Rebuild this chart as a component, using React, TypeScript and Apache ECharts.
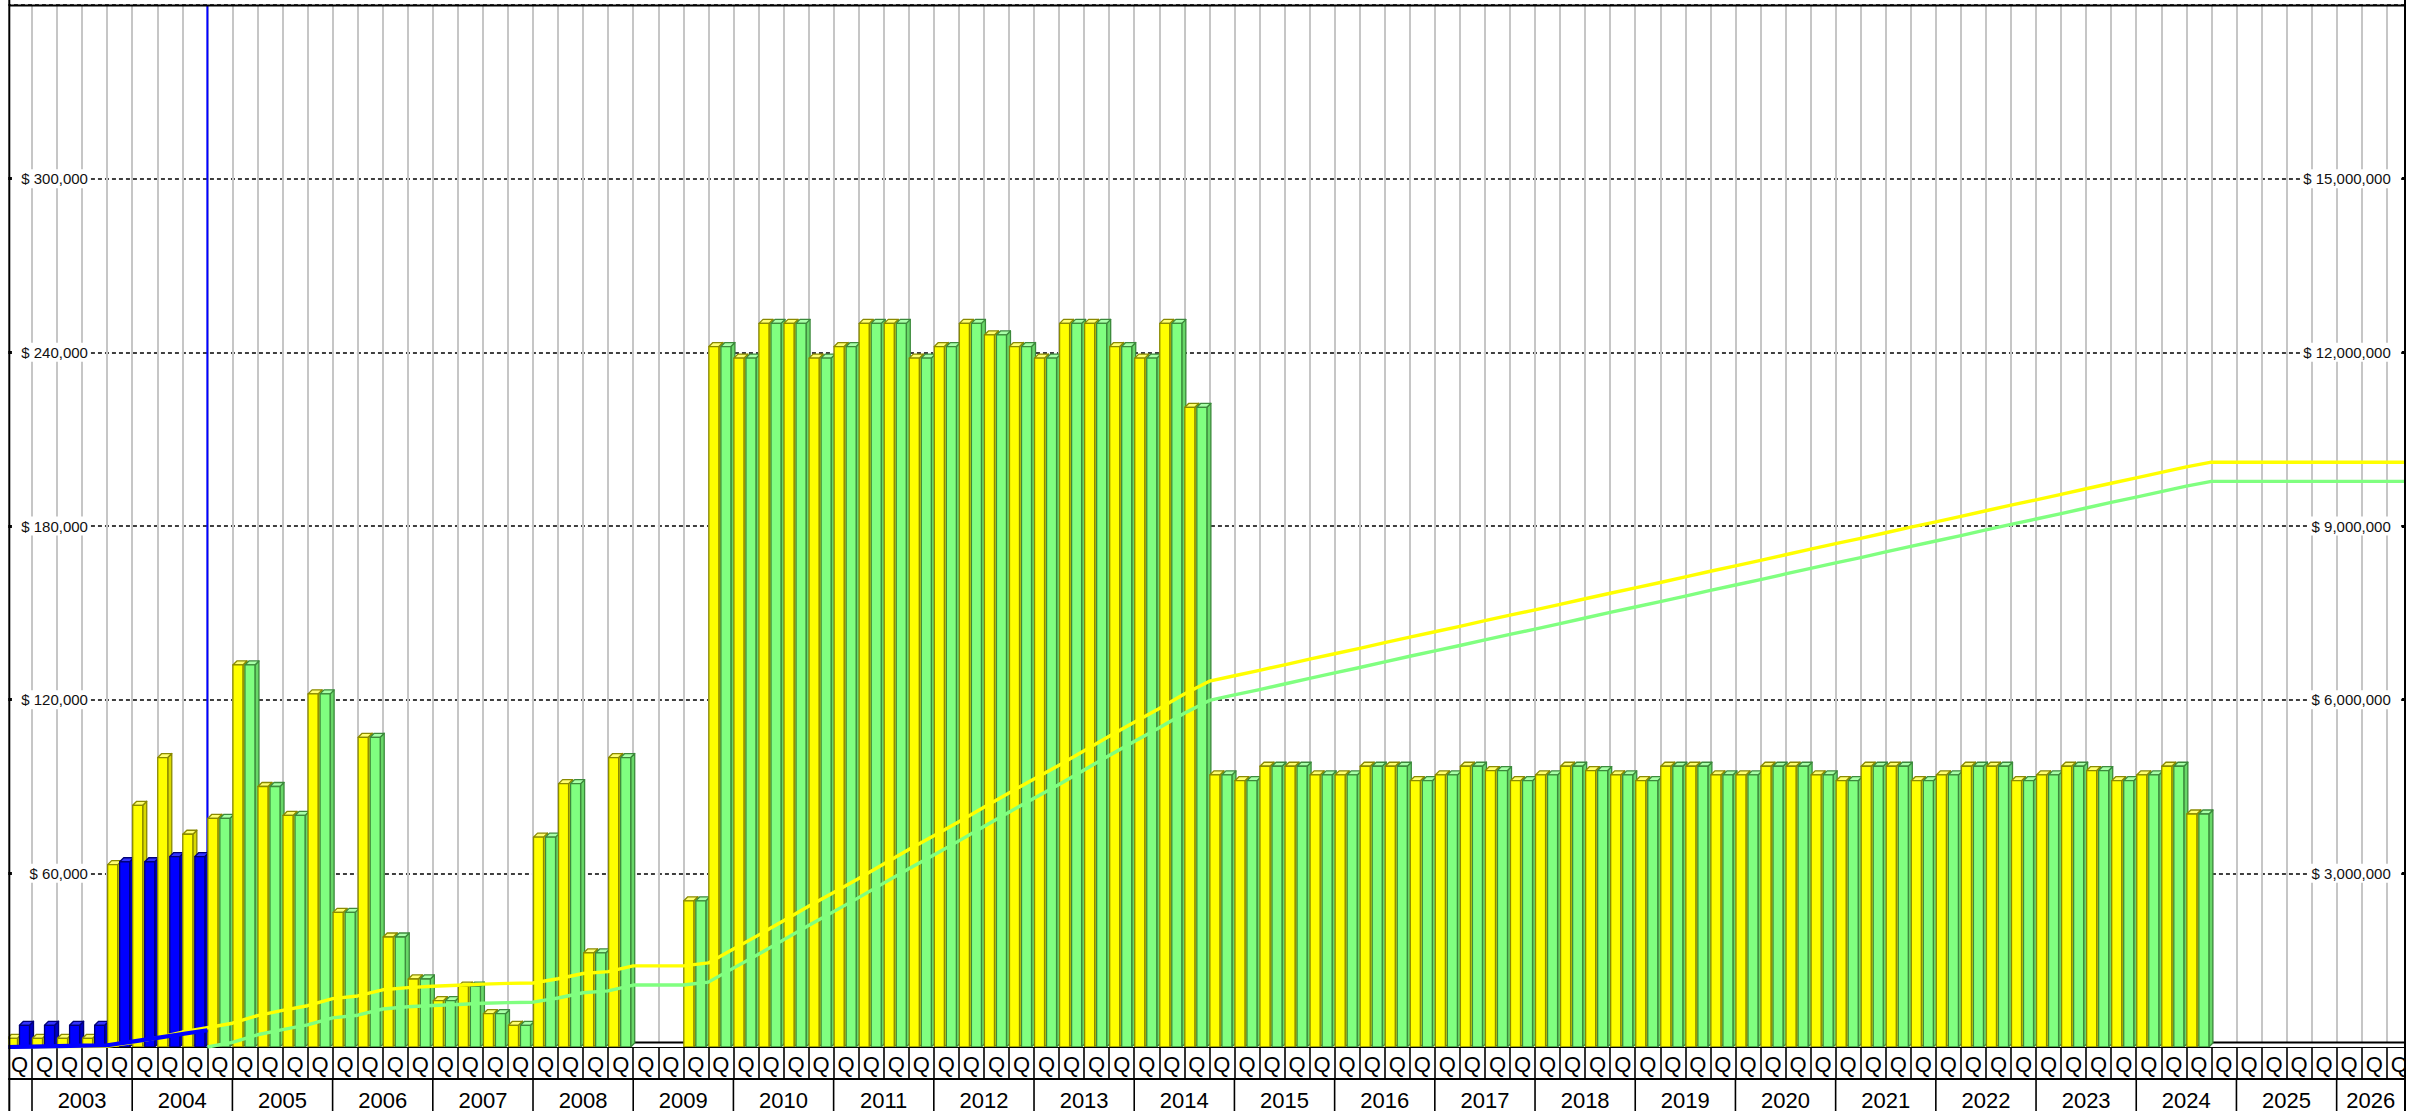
import { useEffect, useRef } from 'react';
import * as echarts from 'echarts';

const FONT = '"Liberation Sans", Arial, Helvetica, sans-serif';

// ---- categories -------------------------------------------------------
// Years on the lower axis row (2002 is only its Q4, cut at the left edge; 2026 is cut at the right edge)
const YEARS = [2002, 2003, 2004, 2005, 2006, 2007, 2008, 2009, 2010, 2011, 2012, 2013, 2014,
  2015, 2016, 2017, 2018, 2019, 2020, 2021, 2022, 2023, 2024, 2025, 2026];
const FIRST_YEAR = 2002;
const FIRST_QUARTER = 4; // the chart starts in 2002 Q4
const QUARTER_COUNT = 96; // 2002 Q4 .. 2026 Q3
const QUARTER_LABELS: string[] = [];
YEARS.forEach((y) => {
  [1, 2, 3, 4].forEach((qn) => {
    if (y === FIRST_YEAR && qn < FIRST_QUARTER) return;
    if (QUARTER_LABELS.length < QUARTER_COUNT) QUARTER_LABELS.push(`${y} Q${qn}`);
  });
});

// ---- series values (quarterly, $) ----------------------------------------
// yellow bars: 2002 Q4 .. 2024 Q3
const BUDGET = [
  3000, 3000, 3000, 3000,
  63000, 83500, 100000, 73500,
  79000, 132000, 90000, 80000,
  122000, 46500, 107000, 38000,
  23500, 16000, 21000, 11500,
  7500, 72500, 91000, 32500,
  100000, 0, 0, 50500,
  242000, 238000, 250000, 250000,
  238000, 242000, 250000, 250000,
  238000, 242000, 250000, 246000,
  242000, 238000, 250000, 250000,
  242000, 238000, 250000, 221000,
  94000, 92000, 97000, 97000,
  94000, 94000, 97000, 97000,
  92000, 94000, 97000, 95500,
  92000, 94000, 97000, 95500,
  94000, 92000, 97000, 97000,
  94000, 94000, 97000, 97000,
  94000, 92000, 97000, 97000,
  92000, 94000, 97000, 97000,
  92000, 94000, 97000, 95500,
  92000, 94000, 97000, 80500,
];
// blue bars: actuals 2002 Q4 .. 2004 Q3
const ACTUAL = [7500, 7500, 7500, 7500, 64000, 64000, 65800, 65800];
// green bars: forecast 2004 Q4 .. 2024 Q3
const FORECAST = [
  79000, 132000, 90000, 80000,
  122000, 46500, 107000, 38000,
  23500, 16000, 21000, 11500,
  7500, 72500, 91000, 32500,
  100000, 0, 0, 50500,
  242000, 238000, 250000, 250000,
  238000, 242000, 250000, 250000,
  238000, 242000, 250000, 246000,
  242000, 238000, 250000, 250000,
  242000, 238000, 250000, 221000,
  94000, 92000, 97000, 97000,
  94000, 94000, 97000, 97000,
  92000, 94000, 97000, 95500,
  92000, 94000, 97000, 95500,
  94000, 92000, 97000, 97000,
  94000, 94000, 97000, 97000,
  94000, 92000, 97000, 97000,
  92000, 94000, 97000, 97000,
  92000, 94000, 97000, 95500,
  92000, 94000, 97000, 80500,
];
const FORECAST_START = 8; // first forecast quarter (2004 Q4); the blue marker sits at its left edge

// ---- axes ----------------------------------------------------------------
const LEFT_MAX = 360000;
const LEFT_STEP = 60000;
const RIGHT_MAX = 18000000;
const RIGHT_STEP = 3000000;

// ---- layout --------------------------------------------------------------
const W = 2416;
const H = 1111;
const GRID = { left: 6.95, right: 4.2, top: 5, bottom: 64 };
const FRAME_L = 9.3;
const FRAME_R = 2405;
const BASE_Y = H - GRID.bottom;

type Pal = { front: string; top: string; side: string; edge: string };
const PAL: Record<string, Pal> = {
  yellow: { front: '#FFFF00', top: '#FFFF70', side: '#DADA00', edge: '#8A8A00' },
  green: { front: '#80FF80', top: '#A8FFA8', side: '#68D868', edge: '#3C8A3C' },
  blue: { front: '#0000FF', top: '#3333FF', side: '#0000C4', edge: '#00007A' },
};

const money = (v: number) => '$ ' + Math.round(v).toLocaleString('en-US');

function cumulative(values: number[], startX: number, endX: number): number[][] {
  const pts: number[][] = [[startX, 0]];
  let s = 0;
  values.forEach((v, i) => {
    s += v;
    pts.push([startX + i + 1, s]);
  });
  const lastX = startX + values.length;
  if (endX > lastX) pts.push([endX, s]);
  return pts;
}

export default function App() {
  const ref = useRef<HTMLDivElement>(null);

  useEffect(() => {
    if (!ref.current) return;
    const chart = echarts.init(ref.current, undefined, { renderer: 'svg', width: W, height: H });

    const barData = BUDGET.map((b, q) => [
      q,
      b,
      q < FORECAST_START ? ACTUAL[q] : FORECAST[q - FORECAST_START],
      q < FORECAST_START ? 1 : 2,
    ]);

    const yearData = YEARS.map((y) => {
      const start = (y - FIRST_YEAR) * 4 - (FIRST_QUARTER - 1);
      return [Math.max(start, 0), Math.min(start + 4, QUARTER_COUNT), 0, y];
    });

    const renderBars = (_p: any, api: any) => {
      const q = api.value(0);
      const base = api.coord([q, 0]);
      const cw = api.size([1, 0])[0];
      const w = cw * 0.4;
      const d = cw * 0.16;
      const y0 = base[1];
      const kids: any[] = [];
      const add = (x: number, val: number, pal: Pal) => {
        if (!(val > 0)) return;
        const top = api.coord([q, val])[1];
        const st = { stroke: pal.edge, lineWidth: 1.3, lineJoin: 'round' };
        kids.push({
          type: 'polygon',
          shape: { points: [[x + w, y0], [x + w, top], [x + w + d, top - d], [x + w + d, y0 - d]] },
          style: { ...st, fill: pal.side },
        });
        kids.push({
          type: 'polygon',
          shape: { points: [[x, top], [x + d, top - d], [x + w + d, top - d], [x + w, top]] },
          style: { ...st, fill: pal.top },
        });
        kids.push({
          type: 'rect',
          shape: { x, y: top, width: w, height: y0 - top },
          style: { ...st, fill: pal.front },
        });
      };
      add(base[0] + cw * 0.02, api.value(1), PAL.yellow);
      add(base[0] + cw * 0.5, api.value(2), api.value(3) === 1 ? PAL.blue : PAL.green);
      return { type: 'group', children: kids };
    };

    const renderYears = (_p: any, api: any) => {
      const s = api.value(0);
      const e = api.value(1);
      const year = api.value(3);
      const p0 = api.coord([s, 0]);
      const p1 = api.coord([e, 0]);
      const xa = Math.max(p0[0], FRAME_L);
      const xb = Math.min(p1[0], FRAME_R);
      const yTop = p0[1] + 32;
      const yBot = p0[1] + 66;
      const kids: any[] = [
        { type: 'line', shape: { x1: p0[0], y1: yTop, x2: p0[0], y2: yBot }, style: { stroke: '#000', lineWidth: 1.6 } },
      ];
      if (xb - xa > 60) {
        kids.push({
          type: 'text',
          style: {
            text: String(year),
            x: (xa + xb) / 2,
            y: p0[1] + 53,
            fill: '#000',
            font: `22px ${FONT}`,
            align: 'center',
            verticalAlign: 'middle',
          },
        });
      }
      return { type: 'group', children: kids };
    };

    const yellowLine = cumulative(BUDGET, 0, QUARTER_COUNT);
    const blueLine = cumulative(ACTUAL, 0, ACTUAL.length);
    const greenLine = cumulative(FORECAST, FORECAST_START, QUARTER_COUNT);

    const option: any = {
      animation: false,
      backgroundColor: '#ffffff',
      textStyle: { fontFamily: FONT },
      grid: {
        left: GRID.left,
        right: GRID.right,
        top: GRID.top,
        bottom: GRID.bottom,
        containLabel: false,
        outerBoundsMode: 'none',
      },
      xAxis: [
        {
          type: 'category',
          data: QUARTER_LABELS,
          position: 'bottom',
          offset: 1,
          z: 0,
          axisLine: { show: true, lineStyle: { color: '#000', width: 2 } },
          axisTick: { show: true, interval: 0, length: 31, lineStyle: { color: '#000', width: 1.6 } },
          axisLabel: {
            show: true,
            interval: 0,
            formatter: () => 'Q',
            margin: 16,
            verticalAlign: 'middle',
            fontSize: 22,
            fontFamily: FONT,
            color: '#000',
          },
          splitLine: { show: true, interval: 0, lineStyle: { color: '#C6C6C6', width: 2 } },
        },
        {
          type: 'value',
          min: 0,
          max: QUARTER_COUNT,
          position: 'bottom',
          offset: 32,
          z: 0,
          axisLine: { show: true, onZero: false, lineStyle: { color: '#000', width: 2 } },
          axisTick: { show: false },
          axisLabel: { show: false },
          splitLine: { show: false },
        },
      ],
      yAxis: [
        {
          type: 'value',
          position: 'left',
          min: 0,
          max: LEFT_MAX,
          interval: LEFT_STEP,
          z: 0,
          axisLine: { show: false },
          axisTick: { show: false },
          axisLabel: { show: false },
          splitLine: { show: true, lineStyle: { color: '#000', width: 1.6, type: [4, 3] } },
        },
        {
          type: 'value',
          position: 'left',
          min: 0,
          max: LEFT_MAX,
          interval: LEFT_STEP,
          z: 3,
          axisLine: { show: false },
          axisTick: { show: true, inside: true, length: 5, lineStyle: { color: '#000', width: 3 } },
          axisLabel: {
            show: true,
            inside: true,
            margin: 5,
            align: 'left',
            showMinLabel: false,
            showMaxLabel: false,
            formatter: (v: number) => `{a|${money(v)}}`,
            rich: {
              a: {
                width: 76,
                align: 'right',
                backgroundColor: '#fff',
                padding: [2, 0, 2, 0],
                fontSize: 15,
                fontFamily: FONT,
                color: '#111',
              },
            },
          },
          splitLine: { show: false },
        },
        {
          type: 'value',
          position: 'right',
          min: 0,
          max: RIGHT_MAX,
          interval: RIGHT_STEP,
          z: 3,
          axisLine: { show: false },
          axisTick: { show: true, inside: true, length: 10, lineStyle: { color: '#000', width: 3 } },
          axisLabel: {
            show: true,
            inside: true,
            margin: 11,
            showMinLabel: false,
            showMaxLabel: false,
            formatter: (v: number) => `{b|${money(v)}}`,
            rich: {
              b: {
                backgroundColor: '#fff',
                padding: [2, 10, 2, 2],
                fontSize: 15,
                fontFamily: FONT,
                color: '#111',
              },
            },
          },
          splitLine: { show: false },
        },
      ],
      series: [
        {
          name: 'forecast start',
          type: 'line',
          xAxisIndex: 1,
          yAxisIndex: 0,
          z: 1,
          silent: true,
          symbol: 'none',
          data: [[FORECAST_START, 0], [FORECAST_START, LEFT_MAX]],
          lineStyle: { color: '#0000FF', width: 2 },
        },
        {
          name: 'bars',
          type: 'custom',
          xAxisIndex: 1,
          yAxisIndex: 0,
          z: 2,
          clip: true,
          silent: true,
          encode: { x: 0, y: 1 },
          renderItem: renderBars,
          data: barData,
        },
        {
          name: 'Cumulative budget',
          type: 'line',
          xAxisIndex: 1,
          yAxisIndex: 2,
          z: 3,
          silent: true,
          symbol: 'none',
          data: yellowLine,
          lineStyle: { color: '#FFFF00', width: 3.4, join: 'round' },
        },
        {
          name: 'Cumulative forecast',
          type: 'line',
          xAxisIndex: 1,
          yAxisIndex: 2,
          z: 3,
          silent: true,
          symbol: 'none',
          data: greenLine,
          lineStyle: { color: '#80FF80', width: 3.4, join: 'round' },
        },
        {
          name: 'Cumulative actual',
          type: 'line',
          xAxisIndex: 1,
          yAxisIndex: 2,
          z: 4,
          silent: true,
          symbol: 'none',
          data: blueLine,
          lineStyle: { color: '#0000FF', width: 4.2, join: 'round' },
        },
        {
          name: 'years',
          type: 'custom',
          xAxisIndex: 1,
          yAxisIndex: 0,
          z: 2,
          clip: false,
          silent: true,
          encode: { x: [0, 1], y: 2 },
          renderItem: renderYears,
          data: yearData,
        },
      ],
      graphic: [
        // 3D floor (back edge) behind the bars
        { type: 'rect', z: 1, silent: true, shape: { x: FRAME_L, y: BASE_Y - 4.5, width: FRAME_R - FRAME_L, height: 4.5 }, style: { fill: '#fff' } },
        { type: 'line', z: 1, silent: true, shape: { x1: FRAME_L, y1: BASE_Y - 4.5, x2: FRAME_R, y2: BASE_Y - 4.5 }, style: { stroke: '#000', lineWidth: 2 } },
        // masks outside the frame
        { type: 'rect', z: 9, silent: true, shape: { x: 0, y: 0, width: FRAME_L - 1, height: H }, style: { fill: '#fff' } },
        { type: 'rect', z: 9, silent: true, shape: { x: FRAME_R + 1, y: 0, width: W - FRAME_R, height: H }, style: { fill: '#fff' } },
        // frame
        { type: 'line', z: 10, silent: true, shape: { x1: FRAME_L, y1: 0, x2: FRAME_L, y2: H }, style: { stroke: '#000', lineWidth: 2 } },
        { type: 'line', z: 10, silent: true, shape: { x1: FRAME_R, y1: 0, x2: FRAME_R, y2: H }, style: { stroke: '#000', lineWidth: 2 } },
        { type: 'line', z: 10, silent: true, shape: { x1: FRAME_L, y1: GRID.top + 0.5, x2: FRAME_R, y2: GRID.top + 0.5 }, style: { stroke: '#000', lineWidth: 2 } },
      ],
    };

    chart.setOption(option);
    return () => chart.dispose();
  }, []);

  return (
    <div
      ref={ref}
      style={{ position: 'fixed', left: 0, top: 0, width: `${W}px`, height: `${H}px`, background: '#fff' }}
    />
  );
}
